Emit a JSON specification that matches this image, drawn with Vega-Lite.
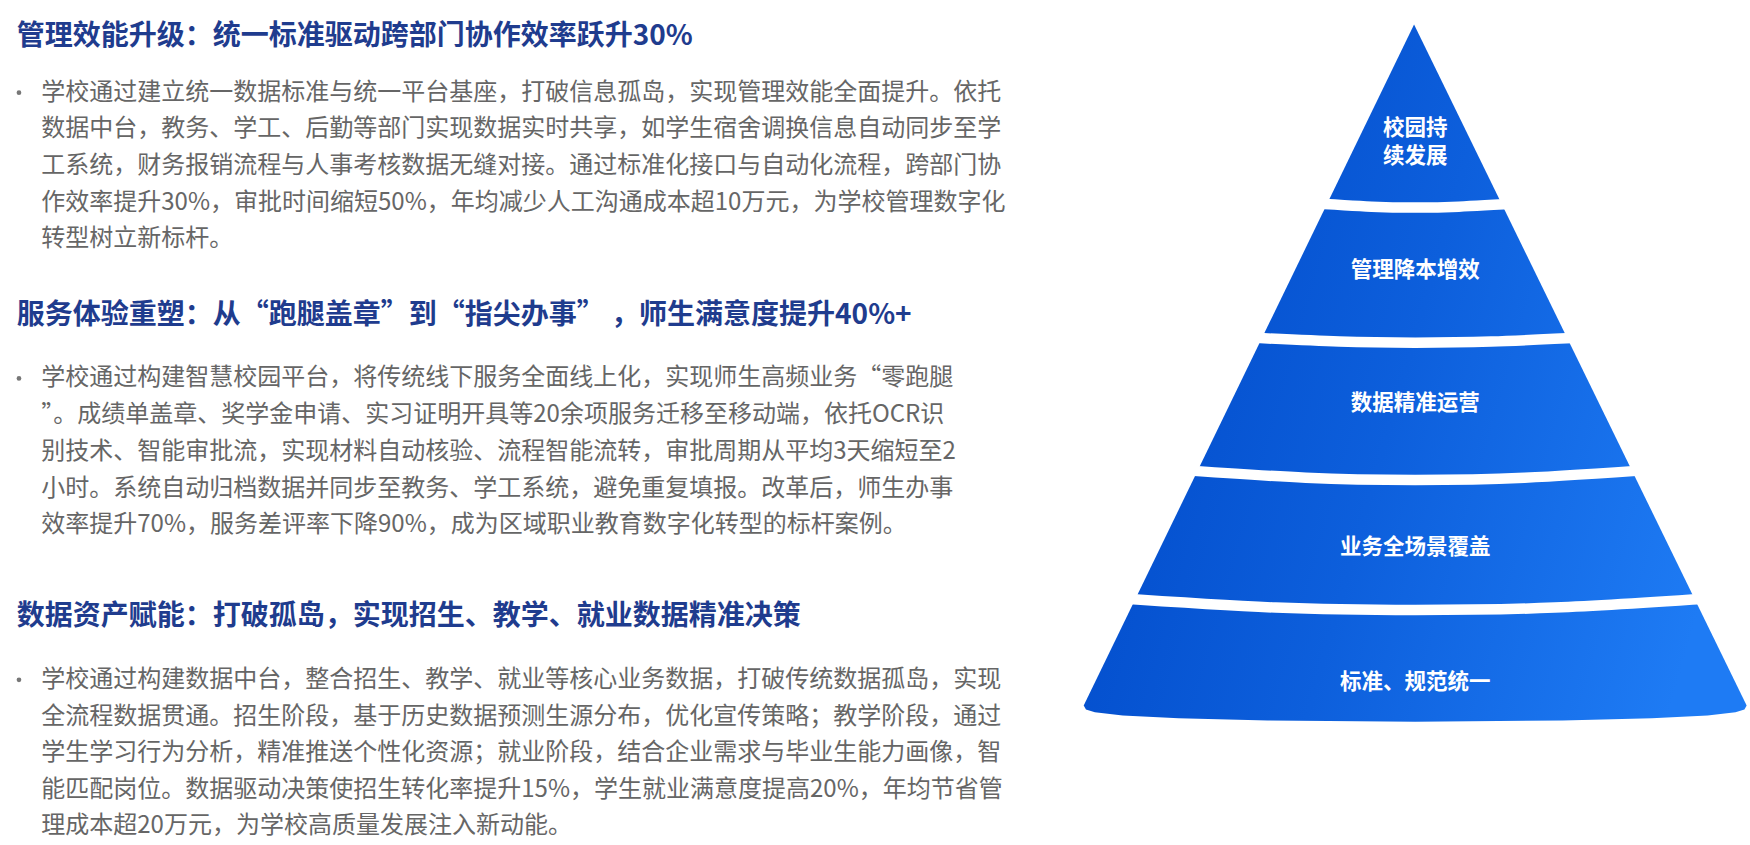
{
  "$schema": "https://vega.github.io/schema/vega-lite/v6.json",
  "width": 1750,
  "height": 845,
  "autosize": {"type": "fit", "contains": "padding"},
  "padding": 0,
  "background": "white",
  "config": {"view": {"stroke": null}},
  "datasets": {
    "cone": [
      {"i": 0, "x": 1267, "y": 22},
      {"i": 1, "x": 1565, "y": 632},
      {"i": 2, "x": 1563, "y": 635.5},
      {"i": 3, "x": 1555, "y": 638},
      {"i": 4, "x": 1530, "y": 641},
      {"i": 5, "x": 1480, "y": 643.5},
      {"i": 6, "x": 1400, "y": 645.5},
      {"i": 7, "x": 1268, "y": 646.5},
      {"i": 8, "x": 1136, "y": 645.5},
      {"i": 9, "x": 1056, "y": 643.5},
      {"i": 10, "x": 1006, "y": 641},
      {"i": 11, "x": 981, "y": 638},
      {"i": 12, "x": 973, "y": 635.5},
      {"i": 13, "x": 971, "y": 632}
    ],
    "gaps": [
      {"g": 1, "x": 1165, "y": 181.5},
      {"g": 1, "x": 1229, "y": 185.2},
      {"g": 1, "x": 1268, "y": 186},
      {"g": 1, "x": 1307, "y": 185.2},
      {"g": 1, "x": 1371, "y": 181.5},
      {"g": 2, "x": 1110, "y": 302},
      {"g": 2, "x": 1200, "y": 306},
      {"g": 2, "x": 1268, "y": 307},
      {"g": 2, "x": 1336, "y": 306},
      {"g": 2, "x": 1426, "y": 302},
      {"g": 3, "x": 1050, "y": 420.5},
      {"g": 3, "x": 1170, "y": 428},
      {"g": 3, "x": 1268, "y": 430},
      {"g": 3, "x": 1366, "y": 428},
      {"g": 3, "x": 1486, "y": 420.5},
      {"g": 4, "x": 995, "y": 535.5},
      {"g": 4, "x": 1143, "y": 544.3},
      {"g": 4, "x": 1268, "y": 546.5},
      {"g": 4, "x": 1393, "y": 544.3},
      {"g": 4, "x": 1541, "y": 535.5}
    ],
    "labels": [
      {"x": 1268, "y": 116, "t": "校园持"},
      {"x": 1268, "y": 141, "t": "续发展"},
      {"x": 1268, "y": 243, "t": "管理降本增效"},
      {"x": 1268, "y": 362, "t": "数据精准运营"},
      {"x": 1268, "y": 491, "t": "业务全场景覆盖"},
      {"x": 1268, "y": 612, "t": "标准、规范统一"}
    ],
    "headings": [
      {"x": 15, "y": 33, "t": "管理效能升级：统一标准驱动跨部门协作效率跃升30%"},
      {"x": 15, "y": 283, "t": "服务体验重塑：从“跑腿盖章”到“指尖办事” ，师生满意度提升40%+"},
      {"x": 15, "y": 553, "t": "数据资产赋能：打破孤岛，实现招生、教学、就业数据精准决策"}
    ],
    "bullets": [
      {"x": 17, "y": 83},
      {"x": 17, "y": 339},
      {"x": 17, "y": 609}
    ],
    "lines": [
      {"x": 37, "y": 83, "t": "学校通过建立统一数据标准与统一平台基座，打破信息孤岛，实现管理效能全面提升。依托"},
      {"x": 37, "y": 116, "t": "数据中台，教务、学工、后勤等部门实现数据实时共享，如学生宿舍调换信息自动同步至学"},
      {"x": 37, "y": 149, "t": "工系统，财务报销流程与人事考核数据无缝对接。通过标准化接口与自动化流程，跨部门协"},
      {"x": 37, "y": 182, "t": "作效率提升30%，审批时间缩短50%，年均减少人工沟通成本超10万元，为学校管理数字化"},
      {"x": 37, "y": 214, "t": "转型树立新标杆。"},
      {"x": 37, "y": 339, "t": "学校通过构建智慧校园平台，将传统线下服务全面线上化，实现师生高频业务“零跑腿"},
      {"x": 37, "y": 372, "t": "”。成绩单盖章、奖学金申请、实习证明开具等20余项服务迁移至移动端，依托OCR识"},
      {"x": 37, "y": 405, "t": "别技术、智能审批流，实现材料自动核验、流程智能流转，审批周期从平均3天缩短至2"},
      {"x": 37, "y": 438, "t": "小时。系统自动归档数据并同步至教务、学工系统，避免重复填报。改革后，师生办事"},
      {"x": 37, "y": 470, "t": "效率提升70%，服务差评率下降90%，成为区域职业教育数字化转型的标杆案例。"},
      {"x": 37, "y": 609, "t": "学校通过构建数据中台，整合招生、教学、就业等核心业务数据，打破传统数据孤岛，实现"},
      {"x": 37, "y": 642, "t": "全流程数据贯通。招生阶段，基于历史数据预测生源分布，优化宣传策略；教学阶段，通过"},
      {"x": 37, "y": 675, "t": "学生学习行为分析，精准推送个性化资源；就业阶段，结合企业需求与毕业生能力画像，智"},
      {"x": 37, "y": 708, "t": "能匹配岗位。数据驱动决策使招生转化率提升15%，学生就业满意度提高20%，年均节省管"},
      {"x": 37, "y": 740, "t": "理成本超20万元，为学校高质量发展注入新动能。"}
    ]
  },
  "encoding": {
    "x": {"field": "x", "type": "quantitative", "scale": {"domain": [0, 1568], "nice": false, "zero": false}, "axis": null},
    "y": {"field": "y", "type": "quantitative", "scale": {"domain": [0, 757], "nice": false, "zero": false, "reverse": true}, "axis": null}
  },
  "layer": [
    {
      "data": {"name": "cone"},
      "mark": {
        "type": "line",
        "strokeWidth": 0,
        "fill": {
          "gradient": "linear",
          "x1": 0, "y1": 0.3, "x2": 1, "y2": 0.6,
          "stops": [
            {"offset": 0, "color": "#0049c8"},
            {"offset": 0.5, "color": "#0d5fdc"},
            {"offset": 1, "color": "#1e7bf4"}
          ]
        }
      },
      "encoding": {"order": {"field": "i", "type": "quantitative"}}
    },
    {
      "data": {"name": "gaps"},
      "mark": {"type": "line", "interpolate": "natural", "stroke": "white", "strokeWidth": 10.5},
      "encoding": {"detail": {"field": "g", "type": "nominal"}}
    },
    {
      "data": {"name": "labels"},
      "mark": {"type": "text", "align": "center", "baseline": "middle", "font": "Noto Sans CJK SC", "fontWeight": "bold", "fontSize": 21.5, "color": "white"},
      "encoding": {"text": {"field": "t"}}
    },
    {
      "data": {"name": "headings"},
      "mark": {"type": "text", "align": "left", "baseline": "middle", "font": "Noto Sans CJK SC", "fontWeight": "bold", "fontSize": 28, "color": "#1f3c8e"},
      "encoding": {"text": {"field": "t"}}
    },
    {
      "data": {"name": "bullets"},
      "mark": {"type": "circle", "size": 22, "color": "#777777", "opacity": 1}
    },
    {
      "data": {"name": "lines"},
      "mark": {"type": "text", "align": "left", "baseline": "middle", "font": "Noto Sans CJK SC", "fontSize": 24, "color": "#666666"},
      "encoding": {"text": {"field": "t"}}
    }
  ]
}
